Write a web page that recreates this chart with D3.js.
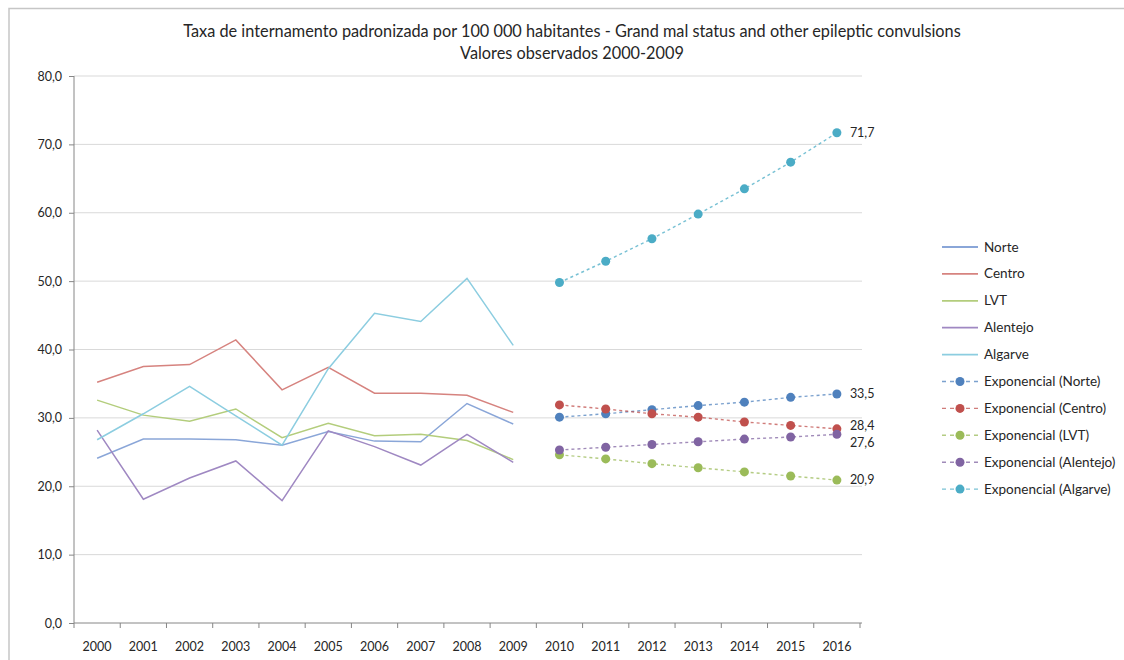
<!DOCTYPE html>
<html><head><meta charset="utf-8">
<script src="https://cdn.jsdelivr.net/npm/d3@7"></script>
<style>html,body{margin:0;background:#fff;overflow:hidden;} svg{display:block;overflow:hidden;font-family:Lato,"Open Sans",sans-serif;}</style>
</head><body>
<svg id="chart" width="1124" height="660"></svg>
<script>
const titleLines = ["Taxa de internamento padronizada por 100 000 habitantes - Grand mal status and other epileptic convulsions","Valores observados 2000-2009"];
const years = ["2000","2001","2002","2003","2004","2005","2006","2007","2008","2009","2010","2011","2012","2013","2014","2015","2016"];
const obsYears = years.slice(0,10);
const projYears = years.slice(10);
const yTicks = [0,10,20,30,40,50,60,70,80];
const regions = ["Norte","Centro","LVT","Alentejo","Algarve"];
const norteObs    = [24.1,26.9,26.9,26.8,26.0,28.0,26.6,26.5,32.1,29.1];
const centroObs   = [35.2,37.5,37.8,41.4,34.1,37.4,33.6,33.6,33.3,30.8];
const lvtObs      = [32.6,30.4,29.5,31.3,27.1,29.2,27.4,27.6,26.7,23.9];
const alentejoObs = [28.2,18.1,21.2,23.7,17.9,28.1,25.8,23.1,27.6,23.5];
const algarveObs  = [26.8,30.6,34.6,30.3,26.0,37.2,45.3,44.1,50.4,40.6];
const norteExp    = [30.1,30.6,31.2,31.8,32.3,33.0,33.5];
const centroExp   = [31.9,31.3,30.6,30.1,29.4,28.9,28.4];
const lvtExp      = [24.6,24.0,23.3,22.7,22.1,21.5,20.9];
const alentejoExp = [25.3,25.7,26.1,26.5,26.9,27.2,27.6];
const algarveExp  = [49.8,52.9,56.2,59.8,63.5,67.4,71.7];
const endLabels   = ["33,5","28,4","20,9","27,6","71,7"];

const obsSeries = [norteObs,centroObs,lvtObs,alentejoObs,algarveObs];
const expSeries = [norteExp,centroExp,lvtExp,alentejoExp,algarveExp];
const lineColors = ["#8aa6d8","#d6837f","#b3cd7c","#9f88c2","#8ccde0"];
const dotColors  = ["#4f81bd","#c0504d","#9bbb59","#8064a2","#4bacc6"];
const labelDy = [4,1,4,13,4];

const svg = d3.select("#chart");
const plot = {left:74,right:860,top:76,bottom:623};
const x = d3.scaleBand().domain(years).range([plot.left,plot.right]);
const y = d3.scaleLinear().domain([0,80]).range([plot.bottom,plot.top]);
const cx = d => x(d)+x.bandwidth()/2;
const textColor = "#262626";

// chart frame (only top and left edges visible)
svg.append("path").attr("d","M9,700V8.5H1130")
  .attr("fill","none").attr("stroke","#c6c6c6").attr("stroke-width",1.5);

// title
svg.append("g").selectAll("text").data(titleLines).join("text")
  .attr("x",572).attr("y",(d,i)=>37+i*22).attr("text-anchor","middle")
  .attr("font-size",16.3).attr("fill",textColor).text(d=>d);

// gridlines
svg.append("g").selectAll("line").data(yTicks.filter(t=>t>0)).join("line")
  .attr("x1",plot.left).attr("x2",plot.right+2).attr("y1",d=>y(d)).attr("y2",d=>y(d))
  .attr("stroke","#d9d9d9").attr("stroke-width",1);

// y axis
const yAxis = svg.append("g").attr("transform",`translate(${plot.left},0)`)
  .call(d3.axisLeft(y).tickValues(yTicks).tickSize(5).tickPadding(7).tickFormat(d=>d3.format(".1f")(d).replace(".",",")));
yAxis.select(".domain").attr("stroke","#868686").attr("d",`M0,${plot.top}V${plot.bottom}`);
yAxis.selectAll(".tick line").attr("stroke","#868686");
yAxis.selectAll("text").attr("font-size",12.5).attr("fill",textColor).attr("font-family","Lato");

// x axis
const xAxis = svg.append("g").attr("transform",`translate(0,${plot.bottom})`)
  .call(d3.axisBottom(x).tickSize(0).tickPadding(19));
xAxis.select(".domain").attr("stroke","#868686").attr("d",`M${plot.left},0H${plot.right+2}`);
xAxis.selectAll("text").attr("font-size",12.5).attr("fill",textColor).attr("font-family","Lato");
svg.append("g").selectAll("line").data(d3.range(years.length+1)).join("line")
  .attr("x1",i=>plot.left+i*x.step()).attr("x2",i=>plot.left+i*x.step())
  .attr("y1",plot.bottom).attr("y2",plot.bottom+5).attr("stroke","#868686");

// observed lines
const lineObs = d3.line().x((d,i)=>cx(obsYears[i])).y(d=>y(d));
svg.append("g").selectAll("path").data(obsSeries).join("path")
  .attr("d",lineObs).attr("fill","none").attr("stroke",(d,i)=>lineColors[i]).attr("stroke-width",1.5);

// projection lines
const lineExp = d3.line().x((d,i)=>cx(projYears[i])).y(d=>y(d));
const eg = svg.append("g");
expSeries.forEach((s,k)=>{
  eg.append("path").attr("d",lineExp(s)).attr("fill","none").attr("stroke",dotColors[k])
    .attr("stroke-opacity",0.75).attr("stroke-width",1.4).attr("stroke-dasharray","3,3");
});
expSeries.forEach((s,k)=>{
  eg.append("g").selectAll("circle").data(s).join("circle")
    .attr("cx",(d,i)=>cx(projYears[i])).attr("cy",d=>y(d)).attr("r",4.5).attr("fill",dotColors[k]);
  eg.append("text").attr("x",cx(projYears[projYears.length-1])+13)
    .attr("y",y(s[s.length-1])+labelDy[k]).attr("font-size",12.5).attr("fill",textColor).text(endLabels[k]);
});

// legend
const legendItems = regions.map((r,i)=>({name:r,type:"line",i}))
  .concat(regions.map((r,i)=>({name:`Exponencial (${r})`,type:"exp",i})));
const lg = svg.append("g").attr("transform","translate(942,247)");
const item = lg.selectAll("g").data(legendItems).join("g").attr("transform",(d,j)=>`translate(0,${j*26.9})`);
item.each(function(d){
  const g = d3.select(this);
  if(d.type==="line"){
    g.append("line").attr("x1",0).attr("x2",36).attr("stroke",lineColors[d.i]).attr("stroke-width",1.8);
  } else {
    g.append("line").attr("x1",0).attr("x2",36).attr("stroke",dotColors[d.i]).attr("stroke-opacity",0.75).attr("stroke-width",1.4).attr("stroke-dasharray","4,4");
    g.append("circle").attr("cx",18).attr("r",4.5).attr("fill",dotColors[d.i]);
  }
  g.append("text").attr("x",42).attr("y",4.5).attr("font-size",13.5).attr("fill",textColor).text(d.name);
});
</script>
</body></html>
